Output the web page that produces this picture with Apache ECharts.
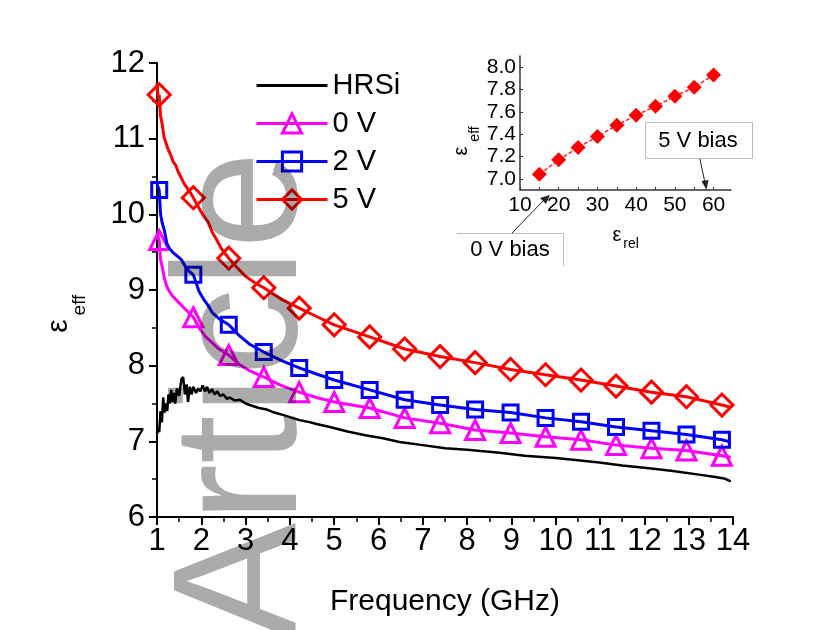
<!DOCTYPE html>
<html><head><meta charset="utf-8">
<script src="https://cdn.jsdelivr.net/npm/echarts@6/dist/echarts.min.js"></script>
<style>html,body{margin:0;padding:0;background:#fff}#c{width:838px;height:630px}</style>
</head><body><div id="c"></div>
<script>
const FONT = '"Liberation Sans", Arial, sans-serif';

// ---------- main plot data ----------
const seriesNames = ['HRSi', '0 V', '2 V', '5 V'];
const markerFreq = [1.05, 1.82, 2.62, 3.41, 4.21, 5.00, 5.80, 6.59, 7.39, 8.18, 8.98, 9.77, 10.57, 11.36, 12.16, 12.95, 13.75];

const hrsiFreq = [1.00,1.02,1.05,1.08,1.11,1.14,1.17,1.20,1.23,1.26,1.29,1.32,1.35,1.38,1.41,1.45,1.50,1.55,1.59,1.63,1.67,1.70,1.74,1.78,1.82,1.88,1.93,1.98,2.03,2.08,2.13,2.18,2.24,2.30,2.36,2.42,2.50,2.58,2.64,2.75,2.87,3.00,3.09,3.30,3.48,3.65,3.84,4.05,4.22,4.40,4.60,4.90,5.30,5.70,6.10,6.47,7.00,7.50,8.00,8.73,9.30,10.00,10.50,10.98,11.50,12.00,12.60,13.23,13.60,13.80,13.95];
const hrsiEps  = [7.10,7.18,7.12,7.40,7.25,7.58,7.38,7.50,7.40,7.62,7.50,7.68,7.52,7.64,7.50,7.70,7.60,7.82,7.85,7.62,7.75,7.52,7.72,7.62,7.72,7.64,7.70,7.66,7.74,7.66,7.72,7.64,7.69,7.62,7.66,7.60,7.62,7.56,7.58,7.54,7.55,7.50,7.48,7.44,7.42,7.38,7.35,7.31,7.28,7.26,7.23,7.19,7.13,7.08,7.04,6.99,6.95,6.91,6.89,6.85,6.81,6.78,6.75,6.72,6.68,6.65,6.61,6.56,6.53,6.51,6.47];

// line-only points (between markers)
const v0LineFreq = [1.00,1.08,1.12,1.17,1.22,1.28,1.35,1.45,1.55,1.65,1.72,1.95,2.10,2.25,2.40,2.85,3.10,3.80,4.60,13.95];
const v0LineEps  = [9.75,9.40,9.30,9.15,9.05,8.98,8.92,8.86,8.80,8.74,8.70,8.50,8.38,8.30,8.22,8.02,7.93,7.74,7.58,6.79];
const v0MarkerEps = [9.66,8.64,8.14,7.85,7.65,7.52,7.44,7.31,7.24,7.15,7.11,7.06,7.02,6.95,6.91,6.88,6.81];

const v2LineFreq = [1.00,1.08,1.12,1.17,1.22,1.28,1.35,1.45,1.55,1.65,1.72,1.95,2.05,2.15,2.25,2.40,2.85,3.10,3.80,4.60,13.95];
const v2LineEps  = [10.40,10.00,9.88,9.78,9.62,9.55,9.50,9.45,9.40,9.30,9.25,8.98,8.88,8.80,8.70,8.62,8.40,8.28,8.07,7.89,6.99];
const v2MarkerEps = [10.32,9.20,8.54,8.18,7.97,7.81,7.68,7.55,7.48,7.42,7.38,7.31,7.26,7.19,7.14,7.09,7.02];

const v5LineFreq = [1.00,1.03,1.08,1.12,1.16,1.20,1.25,1.30,1.36,1.42,1.48,1.55,1.62,1.70,1.76,1.95,2.05,2.15,2.25,2.35,2.45,2.80,3.00,3.20,3.80,4.60,13.95];
const v5LineEps  = [11.74,11.52,11.30,11.18,11.02,10.95,10.86,10.80,10.70,10.65,10.56,10.48,10.40,10.33,10.28,10.08,9.98,9.90,9.76,9.66,9.55,9.30,9.18,9.10,8.88,8.65,7.45];
const v5MarkerEps = [11.58,10.22,9.42,9.03,8.76,8.54,8.38,8.22,8.12,8.04,7.95,7.88,7.81,7.73,7.65,7.59,7.48];

const mainXTicks = [1,2,3,4,5,6,7,8,9,10,11,12,13,14];
const mainYTicks = [6,7,8,9,10,11,12];

// ---------- inset data ----------
const insetRel = [15,20,25,30,35,40,45,50,55,60];
const insetEff = [7.04,7.17,7.28,7.38,7.48,7.57,7.65,7.74,7.82,7.93];
const insetXTicks = [10,20,30,40,50,60];
const insetXMinor = [15,25,35,45,55];
const insetYTicks = [7.0,7.2,7.4,7.6,7.8,8.0];

function mergeSeries(lineX, lineY, mY) {
  const pts = lineX.map((x, i) => [x, lineY[i], 0]);
  markerFreq.forEach((x, i) => pts.push([x, mY[i], 1]));
  pts.sort((a, b) => a[0] - b[0]);
  return pts;
}

const chart = echarts.init(document.getElementById('c'), null, {renderer: 'canvas'});

function markerSeries(name, color, symbol, size, data, z) {
  return {
    type: 'line', name: name, xAxisIndex: 0, yAxisIndex: 0,
    data: data, symbol: symbol,
    symbolSize: (v) => (v[2] ? size : 0),
    showAllSymbol: true,
    lineStyle: {color: color, width: 3},
    itemStyle: {color: 'rgba(255,255,255,0)', borderColor: color, borderWidth: 3},
    emphasis: {disabled: true},
    z: z
  };
}

const axisText = {color: '#000', fontFamily: FONT};

const option = {
  animation: false,
  backgroundColor: '#fff',
  textStyle: {fontFamily: FONT},
  grid: [
    {left: 157, right: 105, top: 63, bottom: 113},
    {left: 520, right: 107, top: 56, bottom: 440}
  ],
  legend: {
    orient: 'vertical', left: 250, top: 66,
    itemWidth: 71, itemHeight: 24, itemGap: 9, itemTextGap: 7,
    lineStyle: {width: 3},
    itemStyle: {borderWidth: 3},
    textStyle: {fontSize: 29, color: '#000', fontFamily: FONT},
    data: [{name: 'HRSi', itemStyle: {opacity: 0}}, '0 V', '2 V', '5 V']
  },
  xAxis: [
    {
      type: 'value', gridIndex: 0, min: 1, max: 14, interval: 1,
      axisLine: {lineStyle: {color: '#000', width: 2}},
      axisTick: {length: 8, lineStyle: {color: '#000', width: 2}},
      minorTick: {show: true, splitNumber: 2, length: 5, lineStyle: {color: '#000', width: 1.5}},
      splitLine: {show: false},
      axisLabel: Object.assign({fontSize: 31, margin: 9, customValues: mainXTicks}, axisText),
      name: 'Frequency (GHz)', nameLocation: 'middle', nameGap: 70,
      nameTextStyle: Object.assign({fontSize: 30}, axisText)
    },
    {
      type: 'value', gridIndex: 1, min: 10, max: 64.5,
      axisLine: {lineStyle: {color: '#333', width: 1.5}},
      axisTick: {inside: true, length: 3, customValues: insetXTicks.concat(insetXMinor), lineStyle: {color: '#333', width: 1}},
      splitLine: {show: false},
      axisLabel: Object.assign({fontSize: 21, margin: 5, customValues: insetXTicks}, axisText)
    }
  ],
  yAxis: [
    {
      type: 'value', gridIndex: 0, min: 6, max: 12, interval: 1,
      axisLine: {show: true, lineStyle: {color: '#000', width: 2}},
      axisTick: {show: true, length: 8, lineStyle: {color: '#000', width: 2}},
      minorTick: {show: true, splitNumber: 2, length: 5, lineStyle: {color: '#000', width: 1.5}},
      splitLine: {show: false},
      axisLabel: Object.assign({fontSize: 31, margin: 12, padding: [8, 0, 0, 0], customValues: mainYTicks}, axisText)
    },
    {
      type: 'value', gridIndex: 1, min: 6.9, max: 8.1,
      axisLine: {show: true, lineStyle: {color: '#333', width: 1.5}},
      axisTick: {show: true, inside: true, length: 3, customValues: insetYTicks, lineStyle: {color: '#333', width: 1}},
      splitLine: {show: false},
      axisLabel: Object.assign({fontSize: 21, margin: 4, customValues: insetYTicks,
        formatter: (v) => Number(v).toFixed(1)}, axisText)
    }
  ],
  series: [
    {
      type: 'line', name: 'HRSi', xAxisIndex: 0, yAxisIndex: 0,
      data: hrsiFreq.map((x, i) => [x, hrsiEps[i]]),
      symbol: 'none', lineStyle: {color: '#000', width: 2.5}, itemStyle: {color: '#000'},
      emphasis: {disabled: true}, z: 2
    },
    markerSeries('0 V', '#ff00ff', 'triangle', 19, mergeSeries(v0LineFreq, v0LineEps, v0MarkerEps), 3),
    markerSeries('2 V', '#0000ff', 'rect', 15, mergeSeries(v2LineFreq, v2LineEps, v2MarkerEps), 4),
    markerSeries('5 V', '#ff0000', 'diamond', 22, mergeSeries(v5LineFreq, v5LineEps, v5MarkerEps), 5),
    {
      type: 'line', name: 'inset', xAxisIndex: 1, yAxisIndex: 1,
      data: insetRel.map((x, i) => [x, insetEff[i]]),
      symbol: 'diamond', symbolSize: 15, showAllSymbol: true,
      lineStyle: {color: '#ff2020', width: 1.5, type: [4, 2]},
      itemStyle: {color: '#ff0000'},
      emphasis: {disabled: true}, z: 5
    }
  ],
  graphic: [
    // y-axis title main
    {type: 'text', x: 59, y: 326, rotation: Math.PI / 2, style: {text: 'ε', fontSize: 30, fontFamily: FONT, fill: '#000', align: 'center', verticalAlign: 'middle'}},
    {type: 'text', x: 80, y: 305, rotation: Math.PI / 2, style: {text: 'eff', fontSize: 19, fontFamily: FONT, fill: '#000', align: 'center', verticalAlign: 'middle'}},
    // inset titles
    {type: 'text', x: 461, y: 151, rotation: Math.PI / 2, style: {text: 'ε', fontSize: 20, fontFamily: FONT, fill: '#000', align: 'center', verticalAlign: 'middle'}},
    {type: 'text', x: 475, y: 134, rotation: Math.PI / 2, style: {text: 'eff', fontSize: 14, fontFamily: FONT, fill: '#000', align: 'center', verticalAlign: 'middle'}},
    {type: 'text', x: 617, y: 235, style: {text: 'ε', fontSize: 20, fontFamily: FONT, fill: '#000', align: 'center', verticalAlign: 'middle'}},
    {type: 'text', x: 631, y: 244, style: {text: 'rel', fontSize: 14, fontFamily: FONT, fill: '#000', align: 'center', verticalAlign: 'middle'}},
    // 5 V bias annotation
    {type: 'rect', shape: {x: 645.5, y: 122.5, width: 107, height: 36}, style: {fill: '#fff', stroke: '#bdbdbd', lineWidth: 1}, z: 10},
    {type: 'text', x: 698, y: 141, style: {text: '5 V bias', fontSize: 22, fontFamily: FONT, fill: '#000', align: 'center', verticalAlign: 'middle'}, z: 11},
    {type: 'line', shape: {x1: 700, y1: 159, x2: 705, y2: 183}, style: {stroke: '#222', lineWidth: 1}, z: 11},
    {type: 'polygon', shape: {points: [[706.5, 190], [701.5, 181], [708.5, 180]]}, style: {fill: '#222'}, z: 11},
    // 0 V bias annotation
    {type: 'polyline', shape: {points: [[457, 233.5], [563.5, 233.5], [563.5, 266]]}, style: {stroke: '#bdbdbd', lineWidth: 1, fill: null}, z: 10},
    {type: 'text', x: 510, y: 250, style: {text: '0 V bias', fontSize: 22, fontFamily: FONT, fill: '#000', align: 'center', verticalAlign: 'middle'}, z: 11},
    {type: 'line', shape: {x1: 512, y1: 233, x2: 543, y2: 201}, style: {stroke: '#222', lineWidth: 1}, z: 11},
    {type: 'polygon', shape: {points: [[550, 195], [540, 198], [546, 204]]}, style: {fill: '#222'}, z: 11},
    // watermark (translucent black over the plot = multiply by light gray)
    {type: 'text', x: 247, y: 640, rotation: Math.PI / 2, z: 100,
      style: {text: 'Article', fontSize: 176, fontFamily: FONT, fill: 'rgba(0,0,0,0.33)', align: 'left', verticalAlign: 'middle'}}
  ]
};
chart.setOption(option);
</script>
</body></html>
